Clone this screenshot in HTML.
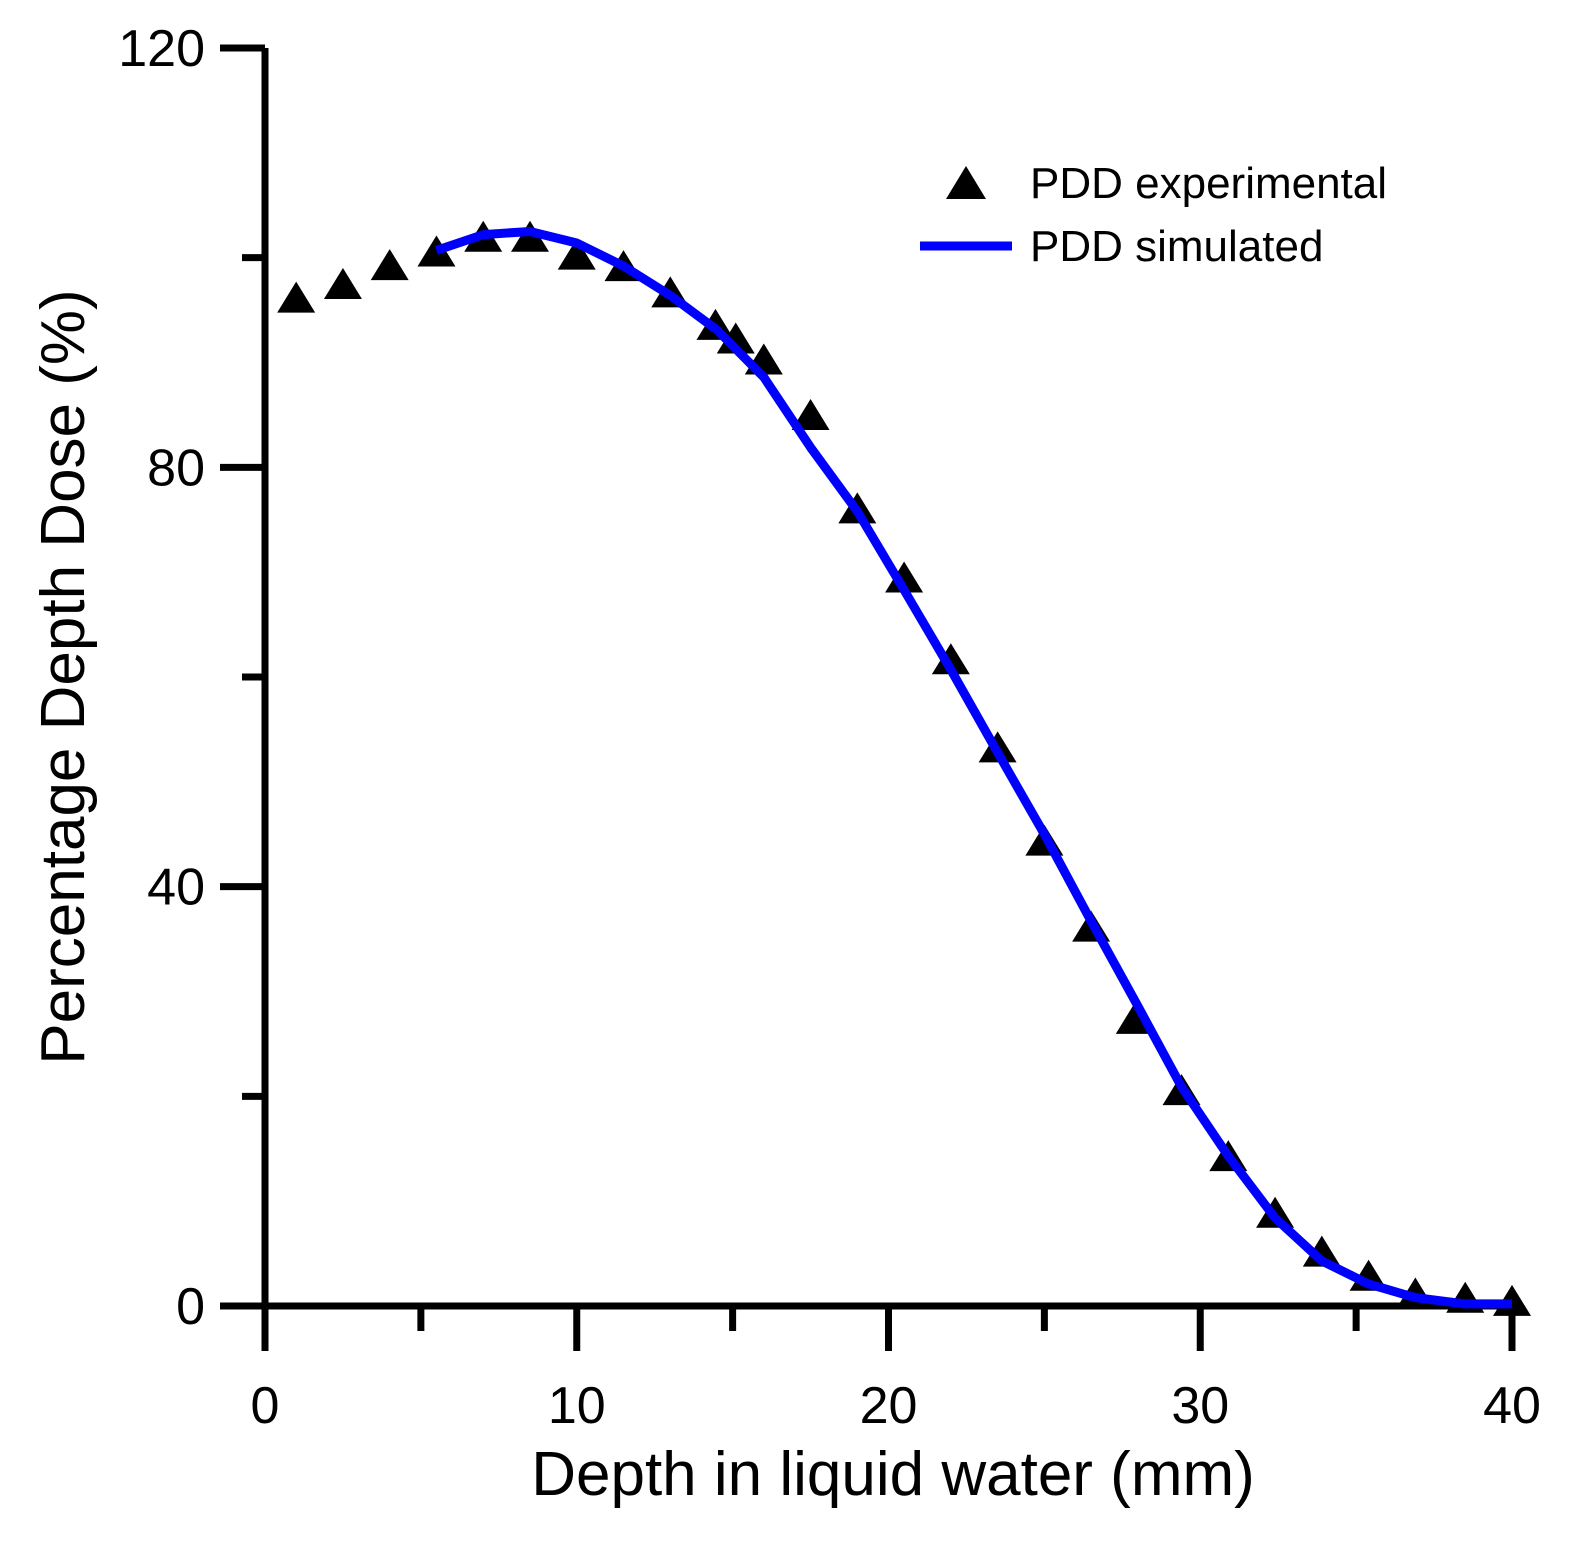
<!DOCTYPE html>
<html><head><meta charset="utf-8"><style>
html,body{margin:0;padding:0;background:#fff;}
svg{display:block;font-family:"Liberation Sans",Arial,sans-serif;}
</style></head><body>
<svg id="chart" width="1583" height="1548" viewBox="0 0 1583 1548" xmlns="http://www.w3.org/2000/svg">
<g id="axes"></g>
<g id="marks"></g>
<text x="893" y="1495" font-size="62" text-anchor="middle">Depth in liquid water (mm)</text>
<text transform="translate(84,677) rotate(-90)" font-size="62" text-anchor="middle">Percentage Depth Dose (%)</text>
<g>
<polygon points="966,166 946,199 986,199" fill="#000"/>
<text x="1030" y="198" font-size="44">PDD experimental</text>
<line x1="920" y1="246" x2="1012" y2="246" stroke="#0000ff" stroke-width="9"/>
<text x="1030" y="261" font-size="44">PDD simulated</text>
</g>
</svg>
<script>
const expX=[1,2.5,4,5.5,7,8.5,10,11.5,13,14.45,15.1,16,17.5,19,20.5,22,23.5,25,26.5,27.9,29.4,30.9,32.4,33.9,35.4,36.9,38.5,40];
const expY=[96.0,97.3,99.1,100.4,101.8,101.8,100.1,99.0,96.5,93.4,92.1,90.1,84.8,75.9,69.3,61.5,53.1,44.2,36.0,27.2,20.4,14.1,8.7,5.0,2.7,1.0,0.6,0.3];
const simX=[5.5,7,8.5,10,11.5,13,14.5,16,17.5,19,20.5,22,23.5,25,26.5,28,29.4,30.9,32.4,33.9,35.4,36.9,38.5,40];
const simY=[100.7,102.2,102.5,101.4,99.2,96.4,93.1,88.6,81.9,75.8,68.3,60.7,52.8,45.0,36.7,28.6,20.9,14.3,8.4,4.3,2.1,0.8,0.2,0.2];
const xTicks=[0,10,20,30,40];
const xMinor=[5,15,25,35];
const yTicks=[0,40,80,120];
const yMinor=[20,60,100];
const NS="http://www.w3.org/2000/svg";
const X=v=>265+v*(1512-265)/40;
const Y=v=>1306-v*(1306-48)/120;
function mk(tag,at,parent){const e=document.createElementNS(NS,tag);for(const k in at)e.setAttribute(k,at[k]);parent.appendChild(e);return e;}
const ax=document.getElementById('axes'),mg=document.getElementById('marks');
let e;
e=mk('line',{x1:X(0),y1:Y(120),x2:X(0),y2:Y(0)+3,stroke:'#000','stroke-width':7},ax);


e=mk('line',{x1:X(0)-3,y1:Y(0),x2:X(40)+3,y2:Y(0),stroke:'#000','stroke-width':7},ax);


yTicks.forEach(v=>{
 e=mk('line',{x1:220,y1:Y(v),x2:X(0),y2:Y(v),stroke:'#000','stroke-width':7},ax);
 
 
 e=mk('text',{x:205,y:Y(v)+18,'font-size':52,'text-anchor':'end'},ax);e.textContent=v;
 
 
});
yMinor.forEach(v=>{
 e=mk('line',{x1:242,y1:Y(v),x2:X(0),y2:Y(v),stroke:'#000','stroke-width':7},ax);
 
 
});
xTicks.forEach(v=>{
 e=mk('line',{x1:X(v),y1:Y(0),x2:X(v),y2:1351,stroke:'#000','stroke-width':7},ax);
 
 
 e=mk('text',{x:X(v),y:1423,'font-size':52,'text-anchor':'middle'},ax);e.textContent=v;
 
 
});
xMinor.forEach(v=>{
 e=mk('line',{x1:X(v),y1:Y(0),x2:X(v),y2:1331,stroke:'#000','stroke-width':7},ax);
 
 
});
expX.forEach((v,i)=>{
 const cx=X(v),cy=Y(expY[i]);
 e=mk('polygon',{points:`${cx},${cy-18} ${cx-19},${cy+13} ${cx+19},${cy+13}`,fill:'#000'},mg);
 
 
});
e=mk('polyline',{points:simX.map((v,i)=>X(v)+','+Y(simY[i])).join(' '),fill:'none',stroke:'#0000ff','stroke-width':9,'stroke-linejoin':'round'},mg);


</script>
</body></html>
